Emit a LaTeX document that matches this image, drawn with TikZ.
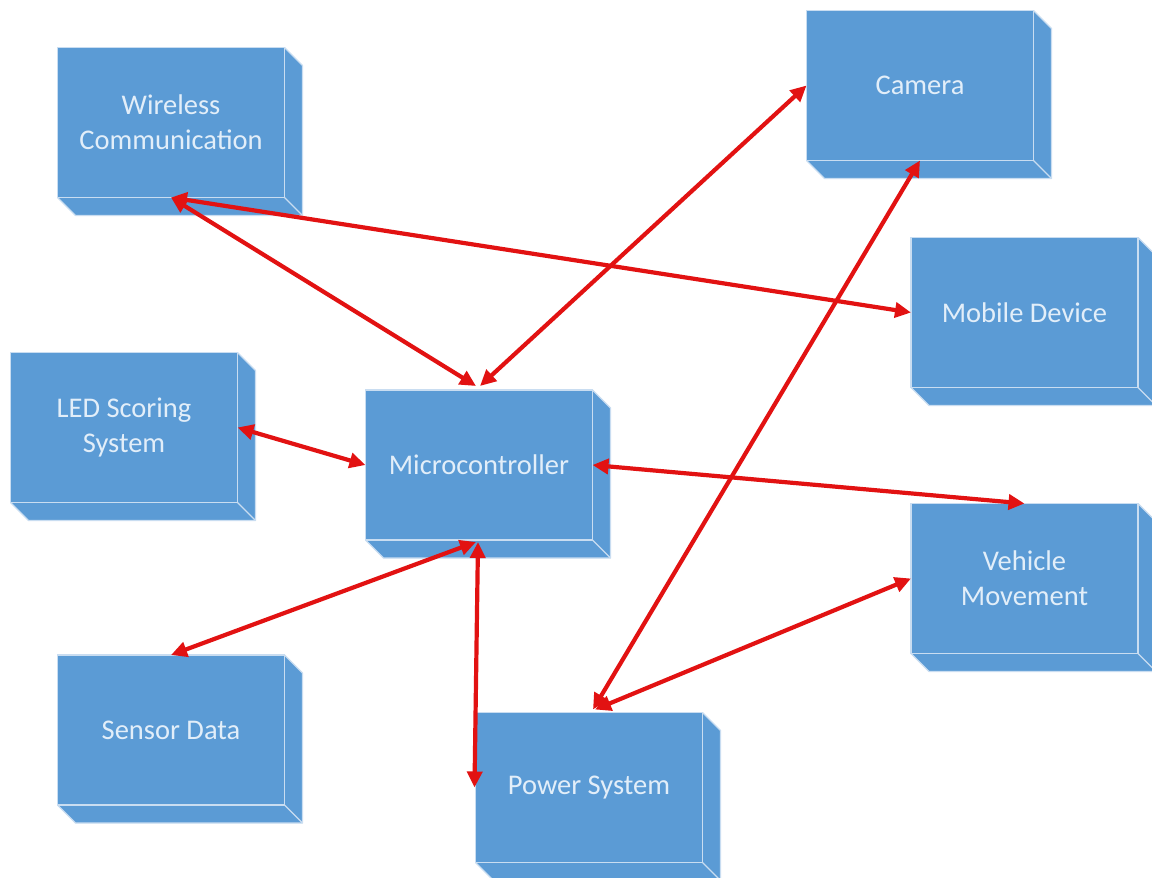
\documentclass[tikz,border=0pt]{standalone}
\usepackage{fontspec}
\setmainfont{Carlito}
\usetikzlibrary{arrows.meta,calc}
\definecolor{boxblue}{HTML}{5B9BD5}
\definecolor{boxedge}{HTML}{C9DDF1}
\definecolor{boxtext}{HTML}{E2EEF9}
\definecolor{linkred}{RGB}{226,18,18}
\pgfdeclarelayer{bg}
\pgfdeclarelayer{paper}
\pgfsetlayers{paper,bg,main}
\tikzset{
  tdb/.style={rectangle, fill=boxblue, draw=boxedge, line width=1.4pt,
    minimum width=227pt, minimum height=150pt, inner sep=0pt, outer sep=0pt,
    align=center, text=boxtext, font=\fontsize{28.5}{35}\selectfont},
  edge/.style={draw=boxedge, line width=1.2pt, line join=round},
  link/.style={draw=linkred, line width=4.2pt,
    {Triangle[length=16pt,width=15pt]}-{Triangle[length=16pt,width=15pt]}}
}
\newcommand\tdbox[4]{%
  \node[tdb] (#1) at (#2,#3) {#4};
  \begin{pgfonlayer}{bg}
    \fill[boxblue] (#1.north east) -- ++(18,18) -- ($(#1.south east)+(18,18)$)
      -- ($(#1.south west)+(18,18)$) -- (#1.south west) -- cycle;
    \draw[edge] (#1.north east) -- ++(18,18) -- ($(#1.south east)+(18,18)$)
      -- ($(#1.south west)+(18,18)$) -- (#1.south west);
    \draw[edge] (#1.south east) -- ++(18,18);
  \end{pgfonlayer}}
\begin{document}
\begin{tikzpicture}[x=1pt,y=-1pt]
\begin{pgfonlayer}{paper}
\fill[white] (0,0) rectangle (1152,878);
\end{pgfonlayer}
\useasboundingbox (0,0) rectangle (1152,878);
\tdbox{wc}{171}{122.5}{Wireless\\Communication}
\tdbox{cam}{920}{85.5}{Camera}
\tdbox{md}{1024.5}{312.5}{Mobile Device}
\tdbox{led}{124}{427.5}{LED Scoring\\System}
\tdbox{mc}{479}{465}{Microcontroller}
\tdbox{vm}{1024.5}{578.5}{Vehicle\\Movement}
\tdbox{sd}{171}{730}{Sensor Data}
\tdbox{ps}{589}{787.5}{Power System}

\draw[link] (wc.south) -- ($(mc.north)+(-3,-4)$);
\draw[link] (wc.south) -- (md.west);
\draw[link] (cam.west) -- ($(mc.north)+(1,-4)$);
\draw[link] (cam.south) -- ($(ps.north)+(4,-3)$);
\draw[link] (led.east) -- (mc.west);
\draw[link] (mc.east) -- (vm.north);
\draw[link] ($(mc.south)+(-3,2)$) -- (sd.north);
\draw[link] ($(mc.south)+(-1,2)$) -- ($(ps.west)+(-1,0)$);
\draw[link] (vm.west) -- ($(ps.north)+(6,-3)$);
\end{tikzpicture}
\end{document}
